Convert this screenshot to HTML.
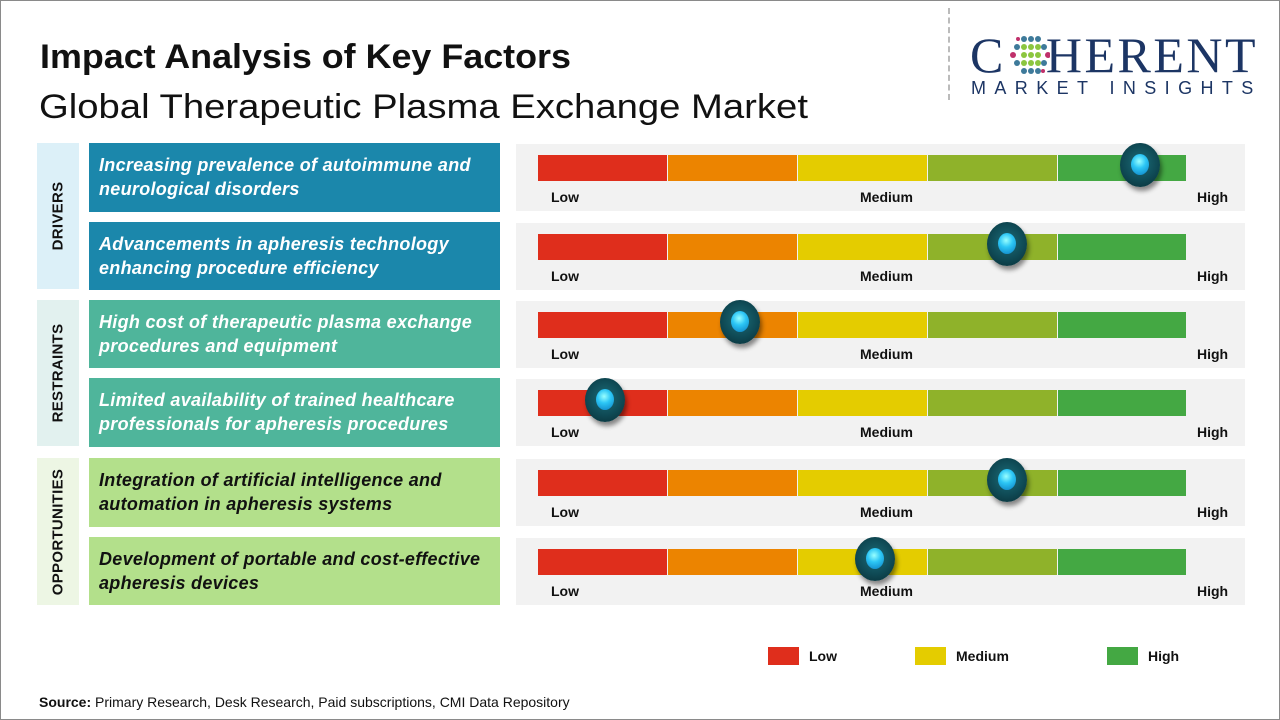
<!DOCTYPE html>
<html><head><meta charset="utf-8"><style>
body{margin:0;width:1280px;height:720px;background:#fff;position:relative;overflow:hidden;font-family:"Liberation Sans",sans-serif}
.a{position:absolute}
.frame{left:0;top:0;width:1278px;height:718px;border:1px solid #8a8a8a}
.cat{left:37px;width:42px}
.cat span{position:absolute;left:50%;top:50%;transform:translate(-50%,-50%) rotate(-90deg);font-weight:bold;font-size:15px;color:#111;white-space:nowrap;letter-spacing:.3px}
.box{left:89px;width:411px;box-sizing:border-box;padding:10px 9px 0 10px;font-weight:bold;font-style:italic;font-size:18px;line-height:24px;color:#fff;letter-spacing:.3px}
.panel{left:516px;width:729px;background:#f2f2f2}
.seg{position:absolute;top:11px;height:26px}
.lbl{position:absolute;top:45px;font-size:14px;font-weight:bold;color:#111}
.knob{position:absolute;width:40px;height:44px;border-radius:50%;background:radial-gradient(circle at 50% 45%,#1c6c78 0,#0f4a55 55%,#082c33 100%);box-shadow:2px 4px 5px rgba(0,0,0,.45)}
.knob:after{content:"";position:absolute;left:11px;top:11px;width:18px;height:21px;border-radius:50%;background:radial-gradient(circle at 45% 35%,#9ff 0,#2cc6f5 40%,#0b7cc0 100%)}
</style></head><body>
<div class="a frame"></div>
<div class="a" style="left:40px;top:38px;font-size:34px;font-weight:bold;color:#111;transform:scaleX(1.055);transform-origin:0 0;white-space:nowrap">Impact Analysis of Key Factors</div>
<div class="a" style="left:39px;top:88px;font-size:34px;color:#111;transform:scaleX(1.125);transform-origin:0 0;white-space:nowrap">Global Therapeutic Plasma Exchange Market</div>
<div class="a" style="left:948px;top:8px;height:92px;border-left:2px dashed #bbb"></div>
<div class="a" style="left:970px;top:30px;font-family:'Liberation Serif',serif;font-size:50px;color:#1c3564;letter-spacing:2.5px;line-height:50px;white-space:nowrap">C<span style="display:inline-block;width:40px"></span>HERENT</div>
<svg class="a" style="left:1010px;top:34px" width="40" height="42">
<g fill="#3e7a9a"><circle cx="14" cy="5" r="3"/><circle cx="21" cy="5" r="3"/><circle cx="28" cy="5" r="3"/><circle cx="7" cy="13" r="3"/><circle cx="34" cy="13" r="3"/><circle cx="7" cy="29" r="3"/><circle cx="34" cy="29" r="3"/><circle cx="14" cy="37" r="3"/><circle cx="21" cy="37" r="3"/><circle cx="28" cy="37" r="3"/></g>
<g fill="#8cc63f"><circle cx="14" cy="13" r="3"/><circle cx="21" cy="13" r="3"/><circle cx="28" cy="13" r="3"/><circle cx="14" cy="21" r="3"/><circle cx="21" cy="21" r="3"/><circle cx="28" cy="21" r="3"/><circle cx="14" cy="29" r="3"/><circle cx="21" cy="29" r="3"/><circle cx="28" cy="29" r="3"/></g>
<g fill="#c0306a"><circle cx="3" cy="21" r="3"/><circle cx="38" cy="21" r="3"/><circle cx="8" cy="5" r="2"/><circle cx="33" cy="37" r="2"/></g></svg>
<div class="a" style="left:971px;top:78px;font-size:18px;color:#1c3564;letter-spacing:8.4px;white-space:nowrap">MARKET INSIGHTS</div>

<div class="a cat" style="top:143px;height:146px;background:#dcf0f8"><span>DRIVERS</span></div>
<div class="a cat" style="top:300px;height:146px;background:#e2f1ef"><span>RESTRAINTS</span></div>
<div class="a cat" style="top:458px;height:147px;background:#edf6e4"><span>OPPORTUNITIES</span></div>

<div class="a box" style="top:143px;height:69px;background:#1b87ab">Increasing prevalence of autoimmune and neurological disorders</div>
<div class="a box" style="top:222px;height:68px;background:#1b87ab">Advancements in apheresis technology enhancing procedure efficiency</div>
<div class="a box" style="top:300px;height:68px;background:#4fb59b">High cost of therapeutic plasma exchange procedures and equipment</div>
<div class="a box" style="top:378px;height:69px;background:#4fb59b">Limited availability of trained healthcare professionals for apheresis procedures</div>
<div class="a box" style="top:458px;height:69px;background:#b3e08b;color:#111">Integration of artificial intelligence and automation in apheresis systems</div>
<div class="a box" style="top:537px;height:68px;background:#b3e08b;color:#111">Development of portable and cost-effective apheresis devices</div>

<div id="panels"></div>
<script>
var tops=[144,223,301,379,459,538],kx=[1140,1007,740,605,1007,875];
var cols=["#df2e1c","#ec8400","#e4cc00","#8fb22a","#44a843"];
var h="";
for(var i=0;i<6;i++){
 h+='<div class="a panel" style="top:'+tops[i]+'px;height:67px">';
 for(var j=0;j<5;j++){h+='<div class="seg" style="left:'+(22+j*130)+'px;width:'+(j<4?129:128)+'px;background:'+cols[j]+'"></div>';}
 h+='<div class="lbl" style="left:35px">Low</div><div class="lbl" style="left:344px">Medium</div><div class="lbl" style="left:681px">High</div>';
 h+='<div class="knob" style="left:'+(kx[i]-516-20)+'px;top:-1px"></div></div>';
}
document.getElementById("panels").innerHTML=h;
</script>

<div class="a" style="left:768px;top:647px;width:31px;height:18px;background:#df2e1c"></div>
<div class="a" style="left:809px;top:648px;font-size:14px;font-weight:bold;color:#111">Low</div>
<div class="a" style="left:915px;top:647px;width:31px;height:18px;background:#e4cc00"></div>
<div class="a" style="left:956px;top:648px;font-size:14px;font-weight:bold;color:#111">Medium</div>
<div class="a" style="left:1107px;top:647px;width:31px;height:18px;background:#44a843"></div>
<div class="a" style="left:1148px;top:648px;font-size:14px;font-weight:bold;color:#111">High</div>

<div class="a" style="left:39px;top:694px;font-size:14px;color:#111"><b>Source:</b> Primary Research, Desk Research, Paid subscriptions, CMI Data Repository</div>
</body></html>
